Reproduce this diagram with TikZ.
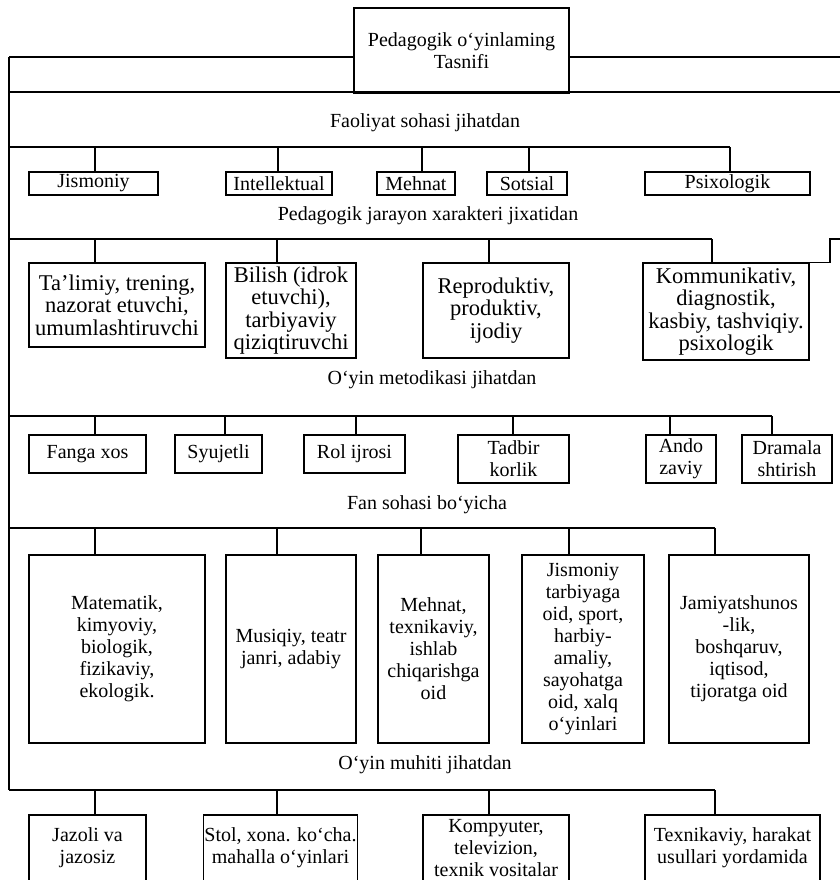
\documentclass[tikz,border=0pt]{standalone}
\usepackage{fontspec}
\setmainfont{Liberation Serif}
\usetikzlibrary{positioning}

\begin{document}
\begin{tikzpicture}[x=1pt, y=-1pt, line width=1.1pt,
        box/.style={rectangle, draw=black, fill=white, align=center, inner sep=1pt,
                    font=\fontsize{20}{22}\selectfont},
        bigbox/.style={box, font=\fontsize{22.5}{22.5}\selectfont},
        head/.style={inner sep=0pt, font=\fontsize{20}{22}\selectfont}
    ]
        \useasboundingbox (0,0) rectangle (840,881);
        \clip (-2,-2) rectangle (842,879.5);

        \node[box, minimum width=215pt, minimum height=85pt] (tasnif) at (461.5,50.5) {Pedagogik o‘yinlaming\\Tasnifi};

        \node[head] (h1) at (425,123) {Faoliyat sohasi jihatdan};
        \node[box, minimum width=129pt, minimum height=23pt] (jism) at (93.5,183.5) {Jismoniy};
        \node[box, minimum width=106pt, minimum height=23pt] (intel) at (279,183.5) {Intellektual};
        \node[box, minimum width=78pt, minimum height=23pt] (mehnat) at (416,183.5) {Mehnat};
        \node[box, minimum width=80pt, minimum height=23pt] (sots) at (527,183.5) {Sotsial};
        \node[box, minimum width=165pt, minimum height=23pt] (psix) at (727.5,183.5) {Psixologik};

        \node[head] (h2) at (428,216) {Pedagogik jarayon xarakteri jixatidan};
        \node[bigbox, minimum width=176pt, minimum height=84pt] (talim) at (117,305) {Ta’limiy, trening,\\nazorat etuvchi,\\umumlashtiruvchi};
        \node[bigbox, minimum width=130pt, minimum height=95pt] (bilish) at (291,310.5) {Bilish (idrok\\etuvchi),\\tarbiyaviy\\qiziqtiruvchi};
        \node[bigbox, minimum width=146pt, minimum height=95pt] (reprod) at (496,310.5) {Reproduktiv,\\produktiv,\\ijodiy};
        \node[bigbox, minimum width=166pt, minimum height=97pt] (kommun) at (726,311.5) {Kommunikativ,\\diagnostik,\\kasbiy, tashviqiy.\\psixologik};

        \node[head] (h3) at (432,380) {O‘yin metodikasi jihatdan};
        \node[box, minimum width=117pt, minimum height=38pt] (fanga) at (87.5,454) {Fanga xos};
        \node[box, minimum width=87pt, minimum height=38pt] (syujet) at (218.5,454) {Syujetli};
        \node[box, minimum width=101pt, minimum height=38pt] (rol) at (354.5,454) {Rol ijrosi};
        \node[box, minimum width=111pt, minimum height=48pt] (tadbir) at (513.5,459) {Tadbir\\korlik};
        \node[box, minimum width=70pt, minimum height=48pt] (ando) at (681,459) {Ando\\zaviy};
        \node[box, minimum width=90pt, minimum height=48pt] (drama) at (787,459) {Dramala\\shtirish};

        \node[head] (h4) at (427,505) {Fan sohasi bo‘yicha};
        \node[box, minimum width=176pt, minimum height=188pt] (mat) at (117,649) {Matematik,\\kimyoviy,\\biologik,\\fizikaviy,\\ekologik.};
        \node[box, minimum width=130pt, minimum height=188pt] (musiq) at (291,649) {Musiqiy, teatr\\janri, adabiy};
        \node[box, minimum width=111pt, minimum height=188pt] (mehnatb) at (433.5,649) {Mehnat,\\texnikaviy,\\ishlab\\chiqarishga\\oid};
        \node[box, minimum width=122pt, minimum height=188pt] (jismb) at (583,649) {Jismoniy\\tarbiyaga\\oid, sport,\\harbiy-\\amaliy,\\sayohatga\\oid, xalq\\o‘yinlari};
        \node[box, minimum width=140pt, minimum height=188pt] (jamiyat) at (739,649) {Jamiyatshunos\\-lik,\\boshqaruv,\\iqtisod,\\tijoratga oid};

        \node[head] (h5) at (425,765) {O‘yin muhiti jihatdan};
        \node[box, minimum width=117pt, minimum height=66pt] (jazo) at (87.5,848) {Jazoli va\\jazosiz};
        \node[box, minimum width=151pt, minimum height=66pt] (stol) at (280.5,848) {Stol, xona. ko‘cha.\\mahalla o‘yinlari};
        \node[box, minimum width=146pt, minimum height=66pt] (kompy) at (496,848) {Kompyuter,\\televizion,\\texnik vositalar};
        \node[box, minimum width=175pt, minimum height=66pt] (texnik) at (732.5,848) {Texnikaviy, harakat\\usullari yordamida};

        \coordinate (s0) at (9,57);
        \coordinate (e0) at (840,57);
        \coordinate (s1) at (9,92);
        \coordinate (e1) at (840,92);
        \coordinate (s5) at (9,790);
        \draw (s0) -- (s0 -| tasnif.west);
        \draw (tasnif.east |- e0) -- (e0);
        \draw (s1) -- (e1);
        \draw (s0) -- (s5);

        \coordinate (a1) at (95,147);
        \coordinate (a2) at (278,147);
        \coordinate (a3) at (422,147);
        \coordinate (a4) at (529,147);
        \coordinate (a5) at (730,147);
        \draw (a1 -| s0) -- (a5);
        \draw (a1) -- (a1 |- jism.north);
        \draw (a2) -- (a2 |- intel.north);
        \draw (a3) -- (a3 |- mehnat.north);
        \draw (a4) -- (a4 |- sots.north);
        \draw (a5) -- (a5 |- psix.north);

        \coordinate (b1) at (95,239);
        \coordinate (b2) at (277,239);
        \coordinate (b3) at (489,239);
        \coordinate (b4) at (712,239);
        \coordinate (jog) at (830,239);
        \coordinate (b5) at (840,239);
        \draw (b1 -| s0) -- (b4);
        \draw (b1) -- (b1 |- talim.north);
        \draw (b2) -- (b2 |- bilish.north);
        \draw (b3) -- (b3 |- reprod.north);
        \draw (b4) -- (b4 |- kommun.north);
        \draw (kommun.north east) -- (kommun.north east -| jog) -- (jog) -- (b5);

        \coordinate (c1) at (95,416);
        \coordinate (c2) at (225,416);
        \coordinate (c3) at (356,416);
        \coordinate (c4) at (513,416);
        \coordinate (c5) at (670,416);
        \coordinate (c6) at (772,416);
        \draw (c1 -| s0) -- (c6);
        \draw (c1) -- (c1 |- fanga.north);
        \draw (c2) -- (c2 |- syujet.north);
        \draw (c3) -- (c3 |- rol.north);
        \draw (c4) -- (c4 |- tadbir.north);
        \draw (c5) -- (c5 |- ando.north);
        \draw (c6) -- (c6 |- drama.north);

        \coordinate (d1) at (95,528);
        \coordinate (d2) at (277,528);
        \coordinate (d3) at (421,528);
        \coordinate (d4) at (569,528);
        \coordinate (d5) at (715,528);
        \draw (d1 -| s0) -- (d5);
        \draw (d1) -- (d1 |- mat.north);
        \draw (d2) -- (d2 |- musiq.north);
        \draw (d3) -- (d3 |- mehnatb.north);
        \draw (d4) -- (d4 |- jismb.north);
        \draw (d5) -- (d5 |- jamiyat.north);

        \coordinate (f1) at (95,790);
        \coordinate (f2) at (277,790);
        \coordinate (f3) at (489,790);
        \coordinate (f4) at (715,790);
        \draw (s5) -- (f4);
        \draw (f1) -- (f1 |- jazo.north);
        \draw (f2) -- (f2 |- stol.north);
        \draw (f3) -- (f3 |- kompy.north);
        \draw (f4) -- (f4 |- texnik.north);
    \end{tikzpicture}
\end{document}
